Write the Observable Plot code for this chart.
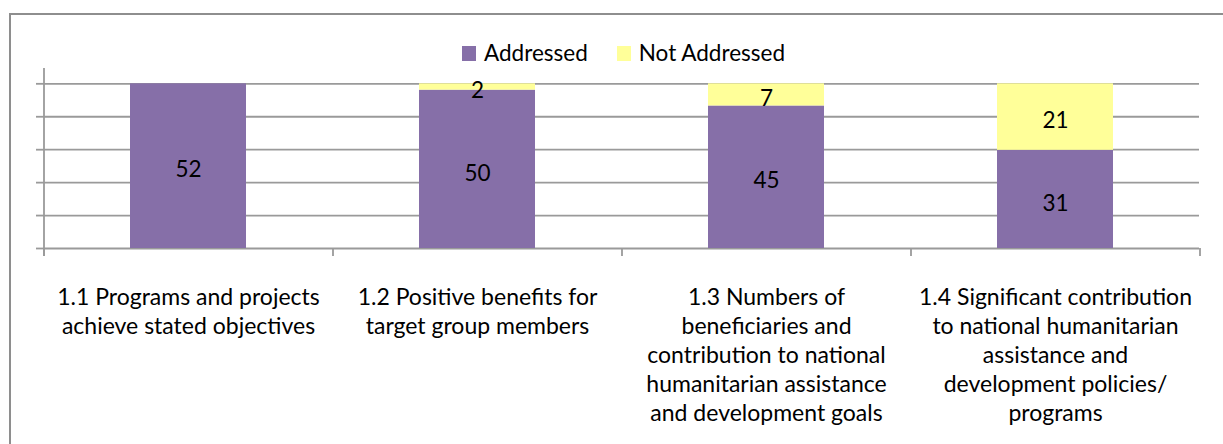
<!DOCTYPE html>
<html>
<head>
<meta charset="utf-8">
<script src="https://cdn.jsdelivr.net/npm/d3@7"></script>
<script src="https://cdn.jsdelivr.net/npm/@observablehq/plot@0.6"></script>
<style>
  html, body { margin: 0; padding: 0; background: #fff; overflow: hidden; }
  #wrap { position: relative; width: 1223px; height: 444px; overflow: hidden; font-family: Lato, "Open Sans", sans-serif; }
  #border { position: absolute; left: 9px; top: 13px; width: 1400px; height: 600px; border: 2px solid #8e8e8e; box-sizing: border-box; }
  #chart { position: absolute; left: 0; top: 0; }
  #legend { position: absolute; left: 462px; top: 41px; height: 24px; display: flex; align-items: center; font-size: 22.5px; line-height: 24px; color: #000; }
  .sw { width: 14px; height: 15px; margin-right: 8px; }
  .item { display: flex; align-items: center; }
  .item + .item { margin-left: 29px; }
</style>
</head>
<body>
<div id="wrap">
  <div id="border"></div>
  <div id="chart"></div>
  <div id="legend"></div>
</div>
<script>
// ---- data ----
const categories = [
  "1.1 Programs and projects achieve stated objectives",
  "1.2 Positive benefits for target group members",
  "1.3 Numbers of beneficiaries and contribution to national humanitarian assistance and development goals",
  "1.4 Significant contribution to national humanitarian assistance and development policies/ programs"
];
const tickLabels = [
  "1.1 Programs and projects\nachieve stated objectives",
  "1.2 Positive benefits for\ntarget group members",
  "1.3 Numbers of\nbeneficiaries and\ncontribution to national\nhumanitarian assistance\nand development goals",
  "1.4 Significant contribution\nto national humanitarian\nassistance and\ndevelopment policies/\nprograms"
];
const series = ["Addressed", "Not Addressed"];
const addressed = [52, 50, 45, 31];
const notAddressed = [0, 2, 7, 21];
const yTicks = [0, 0.2, 0.4, 0.6, 0.8, 1];
const colors = ["#866fa8", "#ffff99"];

// ---- table built from arrays ----
const rows = [];
categories.forEach((c, i) => rows.push({category: c, series: series[0], value: addressed[i]}));
categories.forEach((c, i) => rows.push({category: c, series: series[1], value: notAddressed[i]}));
const labelOf = new Map(categories.map((c, i) => [c, tickLabels[i]]));

// ---- layout ----
const W = 1223, H = 444;
const mL = 43, mR = 24, mT = 68, mB = 196;
const step = (W - mL - mR) / categories.length;
const frameH = H - mT - mB;
const gridColor = "#9a9a9a";
const font = "Lato, 'Open Sans', sans-serif";

const chart = Plot.plot({
  width: W,
  height: H,
  marginLeft: mL,
  marginRight: mR,
  marginTop: mT,
  marginBottom: mB,
  style: {background: "transparent", fontFamily: font, color: "#000"},
  x: {domain: categories, paddingInner: 0.6, paddingOuter: 0.3, axis: null, label: null},
  y: {domain: [0, 1.093], axis: null, label: null},
  color: {domain: series, range: colors},
  marks: [
    Plot.gridY(yTicks, {stroke: gridColor, strokeOpacity: 1, strokeWidth: 1.8}),
    Plot.barY(rows, Plot.stackY({x: "category", y: "value", fill: "series", offset: "normalize"})),
    Plot.text(rows.filter(d => d.value > 0), Plot.stackY({
      x: "category", y: "value", z: "series", offset: "normalize",
      text: d => String(d.value), fontSize: 22.5, dy: 4, fill: "#000"
    })),
    // y axis line
    Plot.ruleX(categories.slice(0, 1), {x: d => d, dx: -step / 2, insetBottom: -8, stroke: gridColor, strokeWidth: 1.8}),
    // category boundary ticks
    Plot.ruleX(categories, {x: d => d, dx: -step / 2, insetTop: frameH, insetBottom: -8, stroke: gridColor, strokeWidth: 1.8}),
    Plot.ruleX(categories.slice(-1), {x: d => d, dx: step / 2, insetTop: frameH, insetBottom: -8, stroke: gridColor, strokeWidth: 1.8}),
    // y ticks (no labels)
    Plot.axisY(yTicks, {tickSize: 7, tickFormat: () => "", label: null, stroke: gridColor, strokeWidth: 1.8}),
    // x tick labels
    Plot.text(categories, {
      x: d => d, text: d => labelOf.get(d), frameAnchor: "bottom", dy: 36,
      lineAnchor: "top", textAnchor: "middle", lineHeight: 1.26, fontSize: 23, fill: "#000"
    })
  ]
});
document.getElementById("chart").appendChild(chart);

// ---- legend ----
const legend = document.getElementById("legend");
series.forEach((s, i) => {
  const item = document.createElement("div");
  item.className = "item";
  const sw = document.createElement("div");
  sw.className = "sw";
  sw.style.background = colors[i];
  const t = document.createElement("span");
  t.textContent = s;
  item.appendChild(sw);
  item.appendChild(t);
  legend.appendChild(item);
});
</script>
</body>
</html>
